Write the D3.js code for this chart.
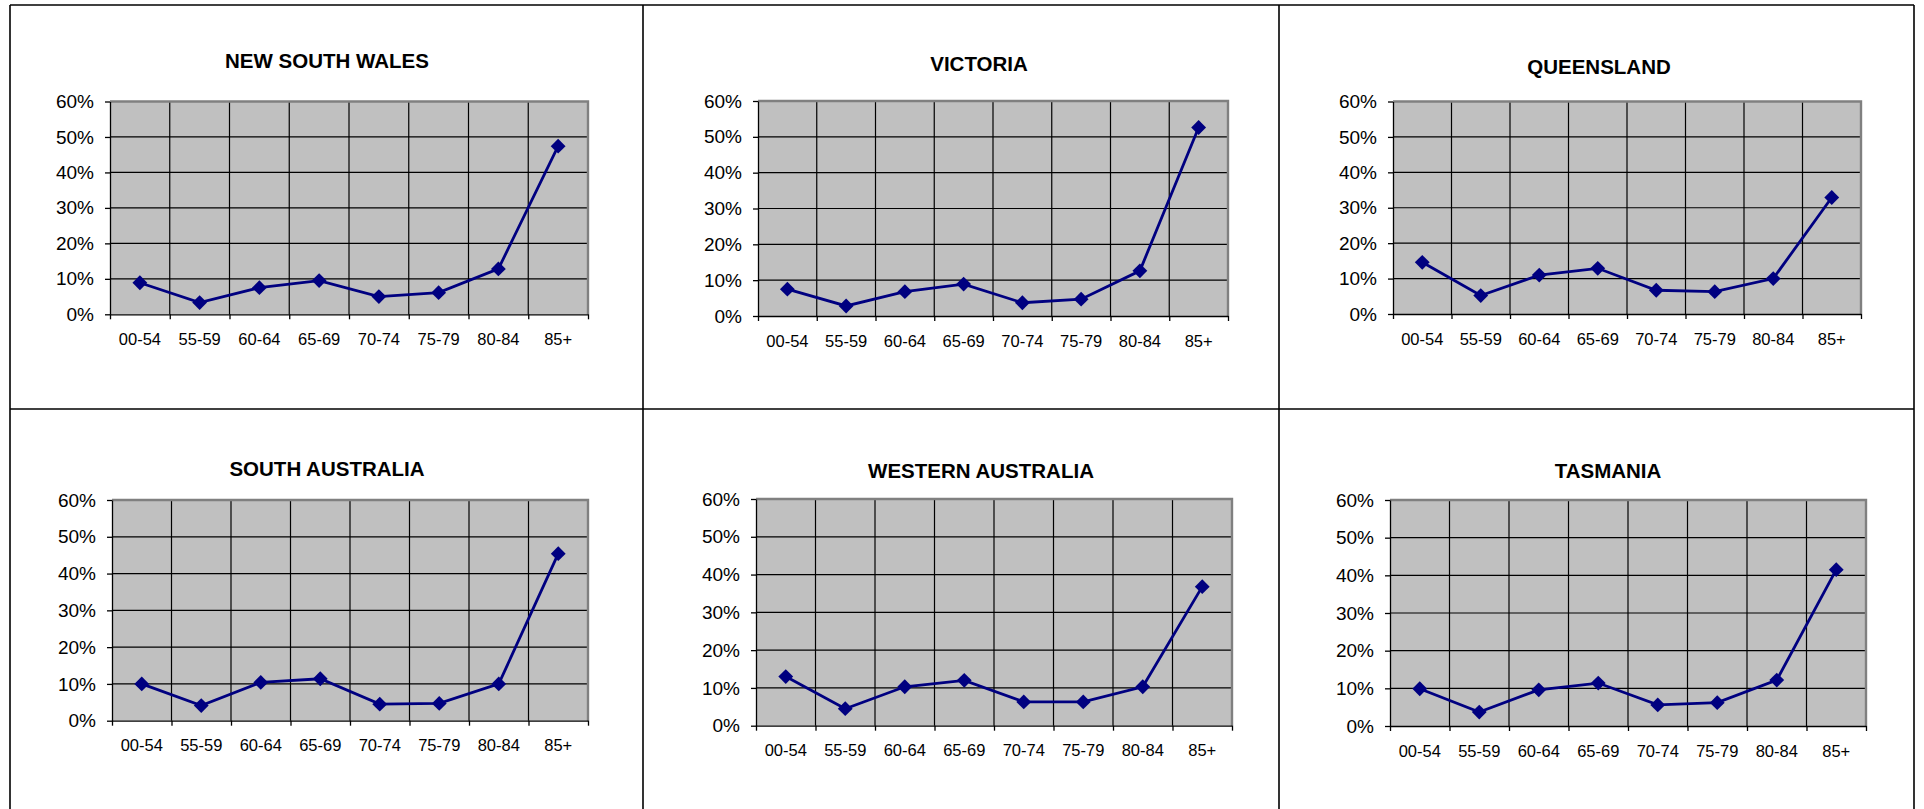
<!DOCTYPE html>
<html>
<head>
<meta charset="utf-8">
<script src="https://cdn.jsdelivr.net/npm/d3@7"></script>
<style>
  body { margin: 0; background: #fff; }
  text { font-family: "Liberation Sans", Arial, sans-serif; fill: #000; }
</style>
</head>
<body>
<div id="chart"></div>
<script>
// age groups and y ticks shared by every panel
var ageGroups = ["00-54", "55-59", "60-64", "65-69", "70-74", "75-79", "80-84", "85+"];
var yTicks = [0, 0.1, 0.2, 0.3, 0.4, 0.5, 0.6];

var states = ["NEW SOUTH WALES", "VICTORIA", "QUEENSLAND", "SOUTH AUSTRALIA", "WESTERN AUSTRALIA", "TASMANIA"];

// share per age group
var nswValues = [0.089, 0.033, 0.075, 0.095, 0.050, 0.061, 0.128, 0.474];
var vicValues = [0.075, 0.028, 0.068, 0.089, 0.037, 0.047, 0.126, 0.526];
var qldValues = [0.146, 0.052, 0.110, 0.129, 0.067, 0.063, 0.100, 0.329];
var saValues  = [0.100, 0.041, 0.104, 0.114, 0.045, 0.047, 0.100, 0.454];
var waValues  = [0.130, 0.045, 0.103, 0.120, 0.063, 0.063, 0.103, 0.368];
var tasValues = [0.099, 0.037, 0.096, 0.114, 0.056, 0.062, 0.122, 0.415];

var seriesList = [nswValues, vicValues, qldValues, saValues, waValues, tasValues];

// where each embedded chart sits on the page
var plots = [
  {x0: 110, x1: 588, top: 101.5, bottom: 314.3, titleX: 327, titleY: 61},
  {x0: 758, x1: 1228, top: 101, bottom: 316, titleX: 979, titleY: 64},
  {x0: 1393, x1: 1861, top: 101.5, bottom: 314, titleX: 1599, titleY: 67},
  {x0: 112, x1: 588, top: 500, bottom: 720.7, titleX: 327, titleY: 469},
  {x0: 756, x1: 1232, top: 499, bottom: 725.7, titleX: 981, titleY: 471},
  {x0: 1390, x1: 1866, top: 500, bottom: 726, titleX: 1608, titleY: 471}
];

var W = 1924, H = 809;
var colX = [10, 643, 1279, 1914], rowY = [5, 409];

var svg = d3.select("#chart").append("svg")
  .attr("width", W)
  .attr("height", H);

// table frame
var frame = svg.append("g").attr("stroke", "#000").attr("stroke-width", 1.6);
colX.forEach(function(x) {
  frame.append("line").attr("x1", x).attr("x2", x).attr("y1", rowY[0]).attr("y2", H);
});
rowY.forEach(function(y) {
  frame.append("line").attr("x1", colX[0]).attr("x2", colX[3]).attr("y1", y).attr("y2", y);
});

states.forEach(function(name, i) {
  var p = plots[i], values = seriesList[i];
  var g = svg.append("g");

  var x = d3.scaleBand().domain(ageGroups).range([p.x0, p.x1]);
  var xEdge = d3.scaleLinear().domain([0, ageGroups.length]).range([p.x0, p.x1]);
  var y = d3.scaleLinear().domain([0, 0.6]).range([p.bottom, p.top]);

  g.append("rect")
    .attr("x", p.x0).attr("y", p.top)
    .attr("width", p.x1 - p.x0).attr("height", p.bottom - p.top)
    .attr("fill", "#c0c0c0");

  // gridlines
  g.selectAll("line.hgrid")
    .data(yTicks.slice(1, -1))
    .enter().append("line")
    .attr("x1", p.x0).attr("x2", p.x1)
    .attr("y1", function(d) { return y(d); }).attr("y2", function(d) { return y(d); })
    .attr("stroke", "#000").attr("stroke-width", 1.2);
  g.selectAll("line.vgrid")
    .data(d3.range(1, ageGroups.length))
    .enter().append("line")
    .attr("x1", function(d) { return xEdge(d); }).attr("x2", function(d) { return xEdge(d); })
    .attr("y1", p.top).attr("y2", p.bottom)
    .attr("stroke", "#000").attr("stroke-width", 1.2);

  // grey plot border top/right
  g.append("path")
    .attr("d", "M" + p.x0 + "," + p.top + "H" + p.x1 + "V" + p.bottom)
    .attr("fill", "none").attr("stroke", "#808080").attr("stroke-width", 2.4);

  // axes
  var yAxis = g.append("g")
    .attr("transform", "translate(" + p.x0 + ",0)")
    .call(d3.axisLeft(y).tickValues(yTicks).tickFormat(d3.format(".0%")).tickSize(5).tickSizeOuter(0).tickPadding(11));
  yAxis.selectAll("text").style("font-size", "19px");

  g.append("g")
    .attr("transform", "translate(0," + p.bottom + ")")
    .call(d3.axisBottom(xEdge).tickValues(d3.range(0, ageGroups.length + 1)).tickFormat("").tickSize(5).tickSizeOuter(0));

  var xAxis = g.append("g")
    .attr("transform", "translate(0," + p.bottom + ")")
    .call(d3.axisBottom(x).tickSize(0).tickPadding(19));
  xAxis.select(".domain").remove();
  xAxis.selectAll("text").style("font-size", "16.5px");

  g.selectAll(".domain, .tick line").attr("stroke", "#000").attr("stroke-width", 1.3);

  // series
  var cx = function(d, j) { return x(ageGroups[j]) + x.bandwidth() / 2; };
  g.append("path")
    .datum(values)
    .attr("fill", "none")
    .attr("stroke", "#000080")
    .attr("stroke-width", 2.8)
    .attr("d", d3.line().x(cx).y(function(d) { return y(d); }));

  g.selectAll("path.marker")
    .data(values)
    .enter().append("path")
    .attr("class", "marker")
    .attr("d", d3.symbol(d3.symbolSquare, 110))
    .attr("transform", function(d, j) { return "translate(" + cx(d, j) + "," + y(d) + ") rotate(45)"; })
    .attr("fill", "#000080");

  g.append("text")
    .attr("x", p.titleX).attr("y", p.titleY)
    .attr("dy", "0.35em")
    .attr("text-anchor", "middle")
    .style("font-size", "20.5px")
    .style("font-weight", "bold")
    .text(name);
});
</script>
</body>
</html>
